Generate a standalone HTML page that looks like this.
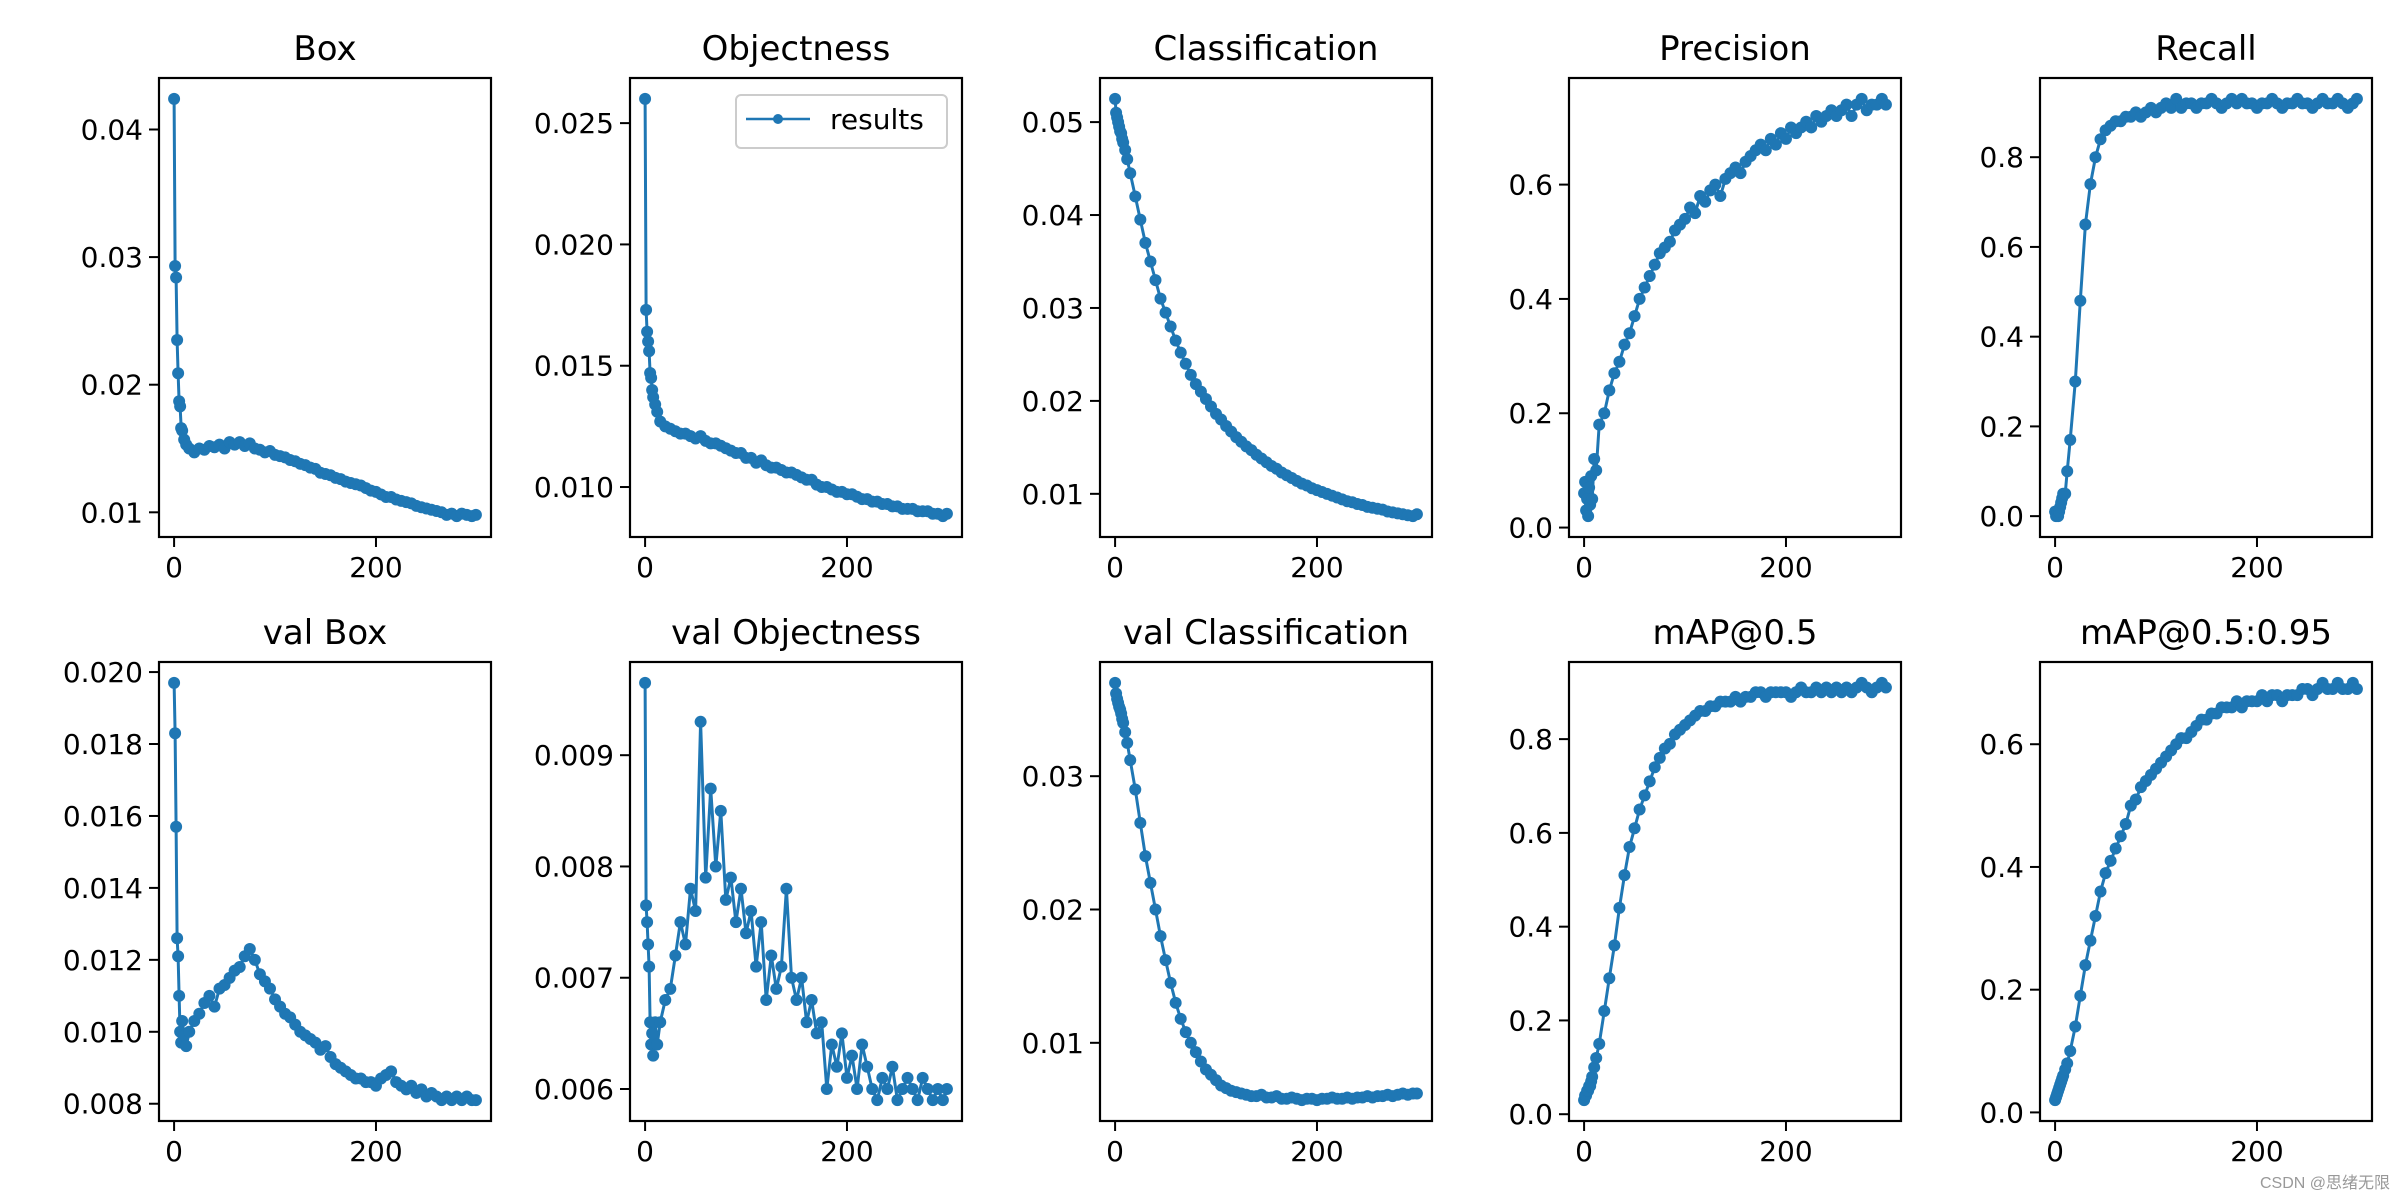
<!DOCTYPE html>
<html><head><meta charset="utf-8">
<style>
html,body{margin:0;padding:0;background:#fff;}
svg{display:block;}
text{font-family:"DejaVu Sans","Liberation Sans",sans-serif;fill:#000;}
</style></head>
<body>
<svg id="fig" width="2400" height="1200" viewBox="0 0 2400 1200" xmlns="http://www.w3.org/2000/svg">
<text x="2390" y="1188" text-anchor="end" font-size="16" style="fill:#999;font-family:'Liberation Sans','Noto Sans CJK SC',sans-serif">CSDN @思绪无限</text>
</svg>
<script>
const epochs=[0,1,2,3,4,5,6,7,8,10,12,15,20,25,30,35,40,45,50,55,60,65,70,75,80,85,90,95,100,105,110,115,120,125,130,135,140,145,150,155,160,165,170,175,180,185,190,195,200,205,210,215,220,225,230,235,240,245,250,255,260,265,270,275,280,285,290,295,299];
const boxVals=[.0424,.0293,.0284,.0235,.0209,.0187,.0183,.0166,.0164,.0157,.0153,.0150,.0147,.0150,.0149,.0152,.0151,.0153,.0150,.0155,.0153,.0155,.0152,.0154,.0150,.0149,.0147,.0148,.0145,.0144,.0143,.0141,.0140,.0138,.0137,.0135,.0134,.0131,.0130,.0129,.0127,.0126,.0124,.0123,.0122,.0121,.0119,.0117,.0116,.0114,.0112,.0112,.0110,.0109,.0108,.0107,.0105,.0104,.0103,.0102,.0101,.0100,.0098,.0099,.0097,.0099,.0098,.0097,.0098];
const objVals=[.0260,.0173,.0164,.0160,.0156,.0147,.0145,.0140,.0137,.0134,.0131,.0127,.0125,.0124,.0123,.0122,.0122,.0121,.0120,.0121,.0119,.0118,.0118,.0117,.0116,.0115,.0114,.0114,.0112,.0112,.0110,.0111,.0109,.0108,.0108,.0107,.0106,.0106,.0105,.0104,.0103,.0103,.0101,.0100,.0100,.0099,.0098,.0098,.0097,.0097,.0096,.0095,.0095,.0094,.0094,.0093,.0093,.0092,.0092,.0091,.0091,.0091,.0090,.0090,.0090,.0089,.0089,.0088,.0089];
const clsVals=[.0525,.0510,.0505,.0500,.0495,.0490,.0488,.0482,.0478,.0470,.0460,.0445,.0420,.0395,.0370,.0350,.0330,.0310,.0295,.0280,.0265,.0252,.0240,.0228,.0218,.0210,.0202,.0194,.0186,.0180,.0173,.0167,.0161,.0156,.0151,.0147,.0142,.0138,.0134,.0130,.0127,.0123,.0120,.0117,.0114,.0111,.0109,.0106,.0104,.0102,.0100,.0098,.0096,.0094,.0092,.0091,.0089,.0088,.0086,.0085,.0084,.0083,.0081,.0080,.0079,.0078,.0077,.0076,.0078];
const precVals=[.06,.08,.03,.05,.02,.07,.04,.09,.05,.12,.10,.18,.20,.24,.27,.29,.32,.34,.37,.40,.42,.44,.46,.48,.49,.50,.52,.53,.54,.56,.55,.58,.57,.59,.60,.58,.61,.62,.63,.62,.64,.65,.66,.67,.66,.68,.67,.69,.68,.70,.69,.70,.71,.70,.72,.71,.72,.73,.72,.73,.74,.72,.74,.75,.73,.74,.74,.75,.74];
const recVals=[.01,.00,.01,.00,.01,.02,.03,.04,.05,.05,.10,.17,.30,.48,.65,.74,.80,.84,.86,.87,.88,.88,.89,.89,.90,.89,.90,.91,.90,.91,.92,.91,.93,.91,.92,.92,.91,.92,.92,.93,.92,.91,.92,.93,.92,.93,.92,.92,.91,.92,.92,.93,.92,.91,.92,.92,.93,.92,.92,.91,.92,.93,.92,.92,.93,.92,.91,.92,.93];
const vBoxVals=[.0197,.0183,.0157,.0126,.0121,.0110,.0100,.0097,.0103,.0099,.0096,.0100,.0103,.0105,.0108,.0110,.0107,.0112,.0113,.0115,.0117,.0118,.0121,.0123,.0120,.0116,.0114,.0112,.0109,.0107,.0105,.0104,.0102,.0100,.0099,.0098,.0097,.0095,.0096,.0093,.0091,.0090,.0089,.0088,.0087,.0087,.0086,.0086,.0085,.0087,.0088,.0089,.0086,.0085,.0084,.0085,.0083,.0084,.0082,.0083,.0082,.0081,.0082,.0081,.0082,.0081,.0082,.0081,.0081];
const vObjVals=[.00965,.00765,.0075,.0073,.0071,.0066,.0064,.0065,.0063,.0066,.0064,.0066,.0068,.0069,.0072,.0075,.0073,.0078,.0076,.0093,.0079,.0087,.0080,.0085,.0077,.0079,.0075,.0078,.0074,.0076,.0071,.0075,.0068,.0072,.0069,.0071,.0078,.0070,.0068,.0070,.0066,.0068,.0065,.0066,.0060,.0064,.0062,.0065,.0061,.0063,.0060,.0064,.0062,.0060,.0059,.0061,.0060,.0062,.0059,.0060,.0061,.0060,.0059,.0061,.0060,.0059,.0060,.0059,.0060];
const vClsVals=[.0370,.0362,.0358,.0355,.0352,.0350,.0347,.0343,.0340,.0333,.0325,.0312,.0290,.0265,.0240,.0220,.0200,.0180,.0162,.0145,.0130,.0118,.0108,.0100,.0093,.0086,.0080,.0076,.0072,.0068,.0066,.0064,.0063,.0062,.0061,.0060,.0060,.0061,.0059,.0059,.0060,.0058,.0058,.0059,.0058,.0057,.0058,.0058,.0057,.0058,.0058,.0059,.0058,.0058,.0059,.0058,.0059,.0059,.0060,.0059,.0060,.0060,.0061,.0060,.0061,.0062,.0061,.0062,.0062];
const map50Vals=[.03,.04,.04,.05,.05,.06,.06,.07,.08,.10,.12,.15,.22,.29,.36,.44,.51,.57,.61,.65,.68,.71,.74,.76,.78,.79,.81,.82,.83,.84,.85,.86,.86,.87,.87,.88,.88,.88,.89,.88,.89,.89,.90,.90,.89,.90,.90,.90,.90,.89,.90,.91,.90,.90,.91,.90,.91,.90,.91,.90,.91,.90,.91,.92,.91,.90,.91,.92,.91];
const map95Vals=[.02,.025,.03,.035,.04,.045,.05,.055,.06,.07,.08,.10,.14,.19,.24,.28,.32,.36,.39,.41,.43,.45,.47,.50,.51,.53,.54,.55,.56,.57,.58,.59,.60,.61,.61,.62,.63,.64,.64,.65,.65,.66,.66,.66,.67,.66,.67,.67,.67,.68,.67,.68,.68,.67,.68,.68,.68,.69,.69,.68,.69,.70,.69,.69,.70,.69,.69,.70,.69];
const titles=["Box","Objectness","Classification","Precision","Recall","val Box","val Objectness","val Classification","mAP@0.5","mAP@0.5:0.95"];
const xTicks=[0,200];
const xTickLabels=["0","200"];
const yTicks=[[0.01,0.02,0.03,0.04],[0.010,0.015,0.020,0.025],[0.01,0.02,0.03,0.04,0.05],[0,0.2,0.4,0.6],[0,0.2,0.4,0.6,0.8],[0.008,0.010,0.012,0.014,0.016,0.018,0.020],[0.006,0.007,0.008,0.009],[0.01,0.02,0.03],[0,0.2,0.4,0.6,0.8],[0,0.2,0.4,0.6]];
const yTickLabels=[["0.01","0.02","0.03","0.04"],["0.010","0.015","0.020","0.025"],["0.01","0.02","0.03","0.04","0.05"],["0.0","0.2","0.4","0.6"],["0.0","0.2","0.4","0.6","0.8"],["0.008","0.010","0.012","0.014","0.016","0.018","0.020"],["0.006","0.007","0.008","0.009"],["0.01","0.02","0.03"],["0.0","0.2","0.4","0.6","0.8"],["0.0","0.2","0.4","0.6"]];
const series=[boxVals,objVals,clsVals,precVals,recVals,vBoxVals,vObjVals,vClsVals,map50Vals,map95Vals];
const seriesNames=["box","objectness","classification","precision","recall","val-box","val-objectness","val-classification","map50","map50-95"];

const NS="http://www.w3.org/2000/svg";
const svg=document.getElementById('fig');
const colL=[159,630,1100,1569,2040], W=332;
const rowT=[78,662], H=459;
const C="#1f77b4";
function mk(tag,attrs,parent){const e=document.createElementNS(NS,tag);for(const k in attrs)e.setAttribute(k,attrs[k]);(parent||svg).appendChild(e);return e;}

series.forEach((vals,i)=>{
  const L=colL[i%5], T=rowT[Math.floor(i/5)];
  const g=mk('g',{});
  
  
  const xmin0=Math.min(...epochs), xmax0=Math.max(...epochs);
  const xm=(xmax0-xmin0)*0.05, x0=xmin0-xm, x1=xmax0+xm;
  const ymin0=Math.min(...vals), ymax0=Math.max(...vals);
  const ym=(ymax0-ymin0)*0.05, y0=ymin0-ym, y1=ymax0+ym;
  const sx=v=>L+(v-x0)/(x1-x0)*W;
  const sy=v=>T+H-(v-y0)/(y1-y0)*H;
  const t=mk('text',{x:L+W/2,y:T-18,'text-anchor':'middle','font-size':34},g);
  t.textContent=titles[i];
  
  
  xTicks.forEach((v,k)=>{
    const x=sx(v);
    mk('line',{x1:x,x2:x,y1:T+H,y2:T+H+10,stroke:'#000','stroke-width':2},g);
    const tl=mk('text',{x:x,y:T+H+40,'text-anchor':'middle','font-size':28},g);
    tl.textContent=xTickLabels[k];
    
    
  });
  yTicks[i].forEach((v,k)=>{
    const y=sy(v);
    if(y<T-1||y>T+H+1)return;
    mk('line',{x1:L-10,x2:L,y1:y,y2:y,stroke:'#000','stroke-width':2},g);
    const tl=mk('text',{x:L-16,y:y+10,'text-anchor':'end','font-size':28},g);
    tl.textContent=yTickLabels[i][k];
    
    
  });
  const pts=epochs.map((e,k)=>sx(e).toFixed(1)+','+sy(vals[k]).toFixed(1)).join(' ');
  const pl=mk('polyline',{points:pts,fill:'none',stroke:C,'stroke-width':3,'stroke-linejoin':'round'},g);
  
  
  epochs.forEach((e,k)=>{
    const c=mk('circle',{cx:sx(e),cy:sy(vals[k]),r:6,fill:C},g);
    
    
  });
  const fr=mk('rect',{x:L,y:T,width:W,height:H,fill:'none',stroke:'#000','stroke-width':2.2},g);
  
  
  if(i===1){
    const lg=mk('g',{},g);
    
    
    mk('rect',{x:736,y:95,width:211,height:53,rx:5,fill:'#fff',stroke:'#ccc','stroke-width':2},lg);
    mk('line',{x1:746,x2:810,y1:119,y2:119,stroke:C,'stroke-width':2.5},lg);
    mk('circle',{cx:778,cy:119,r:5,fill:C},lg);
    const lt=mk('text',{x:830,y:129,'font-size':28},lg);
    lt.textContent='results';
    
    
  }
});
</script>
</body></html>
